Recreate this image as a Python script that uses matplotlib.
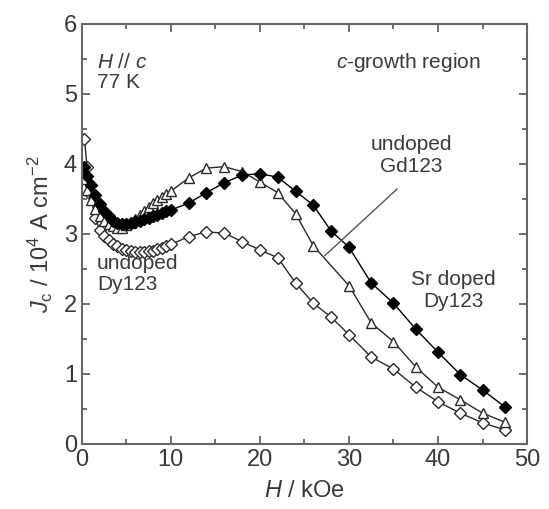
import matplotlib
matplotlib.use("Agg")
import matplotlib.pyplot as plt
from matplotlib.ticker import MultipleLocator

plt.rcParams['font.family'] = ['Liberation Sans', 'DejaVu Sans']
plt.rcParams['mathtext.fontset'] = 'custom'
plt.rcParams['mathtext.rm'] = 'Liberation Sans'
plt.rcParams['mathtext.it'] = 'Liberation Sans:italic'

# undoped Dy123 (open diamonds)
h_dy = [0.3, 0.6, 1.0, 1.5, 2.0, 2.5, 3.0, 3.5, 4.0, 4.5, 5.0, 5.5, 6.0, 6.5, 7.0, 7.5,
        8.0, 8.5, 9.0, 9.5, 10, 12, 14, 16, 18, 20, 22, 24, 26, 28, 30, 32.5, 35,
        37.5, 40, 42.5, 45, 47.5]
jc_dy = [4.35, 3.95, 3.55, 3.22, 3.06, 2.97, 2.91, 2.86, 2.82, 2.79, 2.77, 2.75, 2.74,
         2.74, 2.74, 2.75, 2.76, 2.78, 2.80, 2.82, 2.85, 2.96, 3.03, 3.01, 2.89, 2.77,
         2.66, 2.30, 2.01, 1.81, 1.56, 1.24, 1.07, 0.81, 0.60, 0.44, 0.30, 0.20]

# undoped Gd123 (open triangles)
h_gd = [0.3, 0.6, 1.0, 1.5, 2.0, 2.5, 3.0, 3.5, 4.0, 4.5, 5.0, 5.5, 6.0, 6.5, 7.0, 7.5,
        8.0, 8.5, 9.0, 9.5, 10, 12, 14, 16, 18, 20, 22, 24, 26, 30, 32.5, 35, 37.5,
        40, 42.5, 45, 47.5]
jc_gd = [3.78, 3.62, 3.48, 3.36, 3.26, 3.19, 3.14, 3.11, 3.09, 3.09, 3.12, 3.16, 3.21,
         3.27, 3.33, 3.39, 3.44, 3.49, 3.53, 3.57, 3.61, 3.80, 3.94, 3.96, 3.89, 3.74,
         3.59, 3.29, 2.83, 2.26, 1.73, 1.46, 1.10, 0.81, 0.63, 0.44, 0.31]

# Sr doped Dy123 (filled diamonds)
h_sr = [0.3, 0.6, 1.0, 1.5, 2.0, 2.5, 3.0, 3.5, 4.0, 4.5, 5.0, 5.5, 6.0, 6.5, 7.0, 7.5,
        8.0, 8.5, 9.0, 9.5, 10, 12, 14, 16, 18, 20, 22, 24, 26, 28, 30, 32.5, 35,
        37.5, 40, 42.5, 45, 47.5]
jc_sr = [3.95, 3.82, 3.70, 3.55, 3.42, 3.32, 3.25, 3.19, 3.16, 3.14, 3.14, 3.15, 3.17,
         3.19, 3.21, 3.23, 3.25, 3.27, 3.30, 3.32, 3.34, 3.44, 3.59, 3.73, 3.84, 3.86,
         3.81, 3.61, 3.41, 3.04, 2.81, 2.30, 2.01, 1.64, 1.31, 0.99, 0.77, 0.53]

txt = '#3a3a3a'
edge = '#2a2a2a'

fig = plt.figure(figsize=(5.49, 5.09), dpi=100)
ax = fig.add_axes([0.149, 0.128, 0.811, 0.825])

ax.plot(h_dy, jc_dy, '-', color=edge, lw=1.0, marker='D', ms=6, mfc='white',
        mec=edge, mew=1.0)
ax.plot(h_gd, jc_gd, '-', color=edge, lw=1.0, marker='^', ms=7.5, mfc='white',
        mec=edge, mew=1.0)
ax.plot(h_sr, jc_sr, '-', color='black', lw=1.0, marker='D', ms=6.5, mfc='black',
        mec='black', mew=1.0)

ax.set_xlim(0, 50)
ax.set_ylim(0, 6)
ax.xaxis.set_major_locator(MultipleLocator(10))
ax.xaxis.set_minor_locator(MultipleLocator(5))
ax.yaxis.set_major_locator(MultipleLocator(1))
ax.yaxis.set_minor_locator(MultipleLocator(0.5))
ax.tick_params(which='both', direction='in', top=True, right=True, colors='#555555',
               labelcolor=txt, labelsize=17, width=1.2)
ax.tick_params(which='major', length=6)
ax.tick_params(which='minor', length=3.5)
for s in ax.spines.values():
    s.set_color('#666666')
    s.set_linewidth(1.5)

ax.set_xlabel(r'$H$ / kOe', fontsize=17, color=txt, labelpad=7)
ax.set_ylabel(r'$J_{\rm c}$ / 10$^4$ A cm$^{-2}$', fontsize=17, color=txt, labelpad=6)

ax.text(1.7, 5.45, r'$H$ // $c$', fontsize=15, color=txt, va='center')
ax.text(1.7, 5.17, '77 K', fontsize=15, color=txt, va='center')
ax.text(44.8, 5.45, r'$c$-growth region', fontsize=15, color=txt, va='center', ha='right')
ax.text(37.0, 4.12, 'undoped\nGd123', fontsize=15, color=txt, ha='center', va='center',
        linespacing=1.15)
ax.text(41.7, 2.19, 'Sr doped\nDy123', fontsize=15, color=txt, ha='center', va='center',
        linespacing=1.15)
ax.text(1.7, 2.43, 'undoped\nDy123', fontsize=15, color=txt, ha='left', va='center',
        linespacing=1.15)
ax.plot([35.4, 27.3], [3.64, 2.69], color='#555555', lw=1.0)

fig.savefig('out.png', dpi=100)
